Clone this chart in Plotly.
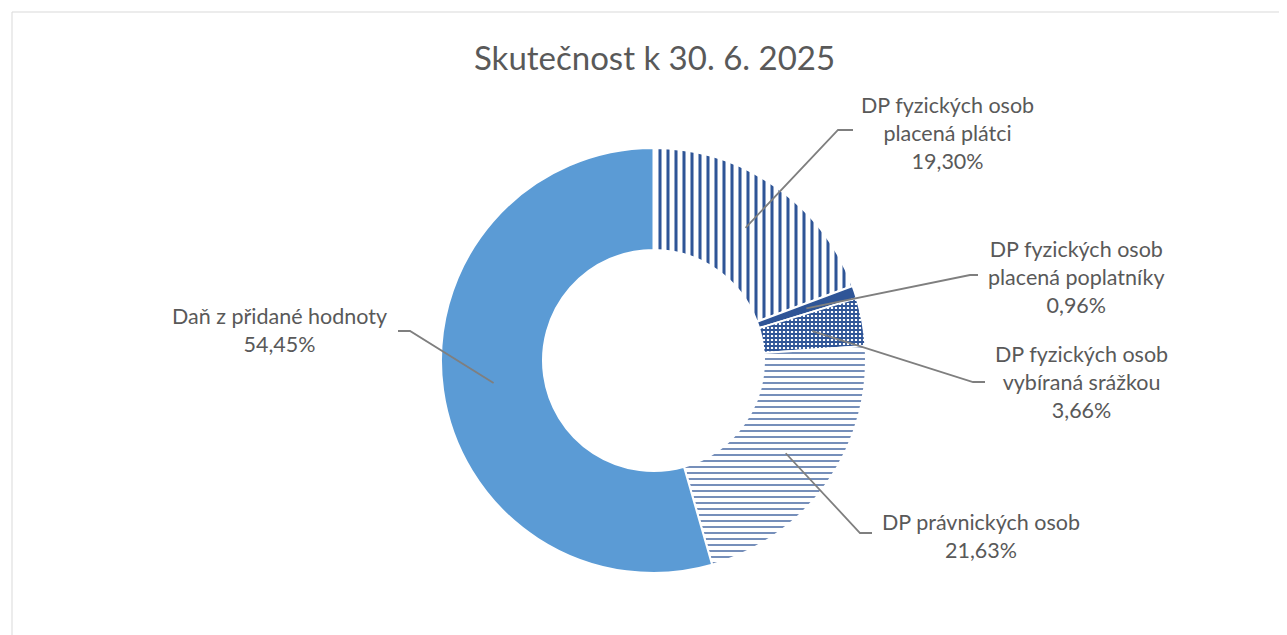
import math
import plotly.graph_objects as go

# ---- data ----
categories = [
    "DP fyzických osob placená plátci",
    "DP fyzických osob placená poplatníky",
    "DP fyzických osob vybíraná srážkou",
    "DP právnických osob",
    "Daň z přidané hodnoty",
]
label_texts = [
    "DP fyzických osob<br>placená plátci",
    "DP fyzických osob<br>placená poplatníky",
    "DP fyzických osob<br>vybíraná srážkou",
    "DP právnických osob",
    "Daň z přidané hodnoty",
]
values = [19.30, 0.96, 3.66, 21.63, 54.45]
title_text = "Skutečnost k 30. 6. 2025"

# ---- layout constants ----
W, H = 1287, 635
OFF = 8  # page body margin in the browser
CX, CY, R = 653.5, 360.5, 212.5
HOLE = 0.52
DARK = "#2F5597"
LIGHT = "#5B9BD5"
TXT = "#595959"
FONT = "Lato"

def px(x):
    return (x - OFF) / W

def py(y):
    return 1 - (y - OFF) / H

# label placement (pixel in screenshot): text centre, elbow point, line end
label_pos = [
    dict(tx=947, ty=133, elbow=(838, 130), end=(853, 130)),
    dict(tx=1076, ty=277, elbow=(970, 275), end=(978, 275)),
    dict(tx=1081, ty=382, elbow=(973, 382), end=(985, 382)),
    dict(tx=981, ty=536, elbow=(860, 533), end=(872, 533)),
    dict(tx=279, ty=330, elbow=(410, 331), end=(398, 331)),
]

fig = go.Figure()
fig.add_trace(go.Pie(
    labels=categories,
    values=values,
    sort=False,
    direction="clockwise",
    rotation=0,
    hole=HOLE,
    textinfo="none",
    showlegend=False,
    domain=dict(x=[px(CX - R), px(CX + R)], y=[py(CY + R), py(CY - R)]),
    marker=dict(
        colors=["white", DARK, "white", "white", LIGHT],
        line=dict(color="white", width=2),
        pattern=dict(
            shape=["|", "", "+", "-", ""],
            fgcolor=[DARK, DARK, DARK, DARK, LIGHT],
            bgcolor=["white", DARK, "white", "white", LIGHT],
            size=[8, 8, 4, 6, 8],
            solidity=[0.38, 0.5, 0.7, 0.22, 0.5],
            fillmode="replace",
        ),
    ),
))

shapes = [dict(type="rect", xref="paper", yref="paper",
               x0=px(12), x1=px(1282.5), y0=-0.05, y1=py(12),
               line=dict(color="#D9D9D9", width=1), fillcolor="rgba(0,0,0,0)")]
annotations = [dict(text=title_text, x=px(654.5), y=py(57), xref="paper", yref="paper",
                    showarrow=False, xanchor="center", yanchor="middle",
                    font=dict(family=FONT, size=33, color=TXT))]

total = sum(values)
cum = 0.0
r_anchor = R * (1 + HOLE) / 2
for v, lt, pos in zip(values, label_texts, label_pos):
    mid = (cum + v / 2) / total * 2 * math.pi
    cum += v
    ax = CX + r_anchor * math.sin(mid)
    ay = CY - r_anchor * math.cos(mid)
    ex, ey = pos["elbow"]
    nx, ny = pos["end"]
    path = f"M {px(ax)},{py(ay)} L {px(ex)},{py(ey)} L {px(nx)},{py(ny)}"
    shapes.append(dict(type="path", xref="paper", yref="paper", path=path,
                       line=dict(color="#7F7F7F", width=1.8), layer="above"))
    pct = f"{v:.2f}".replace(".", ",") + "%"
    annotations.append(dict(text=f"{lt}<br>{pct}", x=px(pos["tx"]), y=py(pos["ty"]),
                            xref="paper", yref="paper", showarrow=False,
                            xanchor="center", yanchor="middle", align="center",
                            font=dict(family=FONT, size=21.5, color=TXT)))

fig.update_layout(
    width=W, height=H,
    margin=dict(l=0, r=0, t=0, b=0),
    paper_bgcolor="white", plot_bgcolor="white",
    shapes=shapes, annotations=annotations,
)

fig.write_html("out.html")
